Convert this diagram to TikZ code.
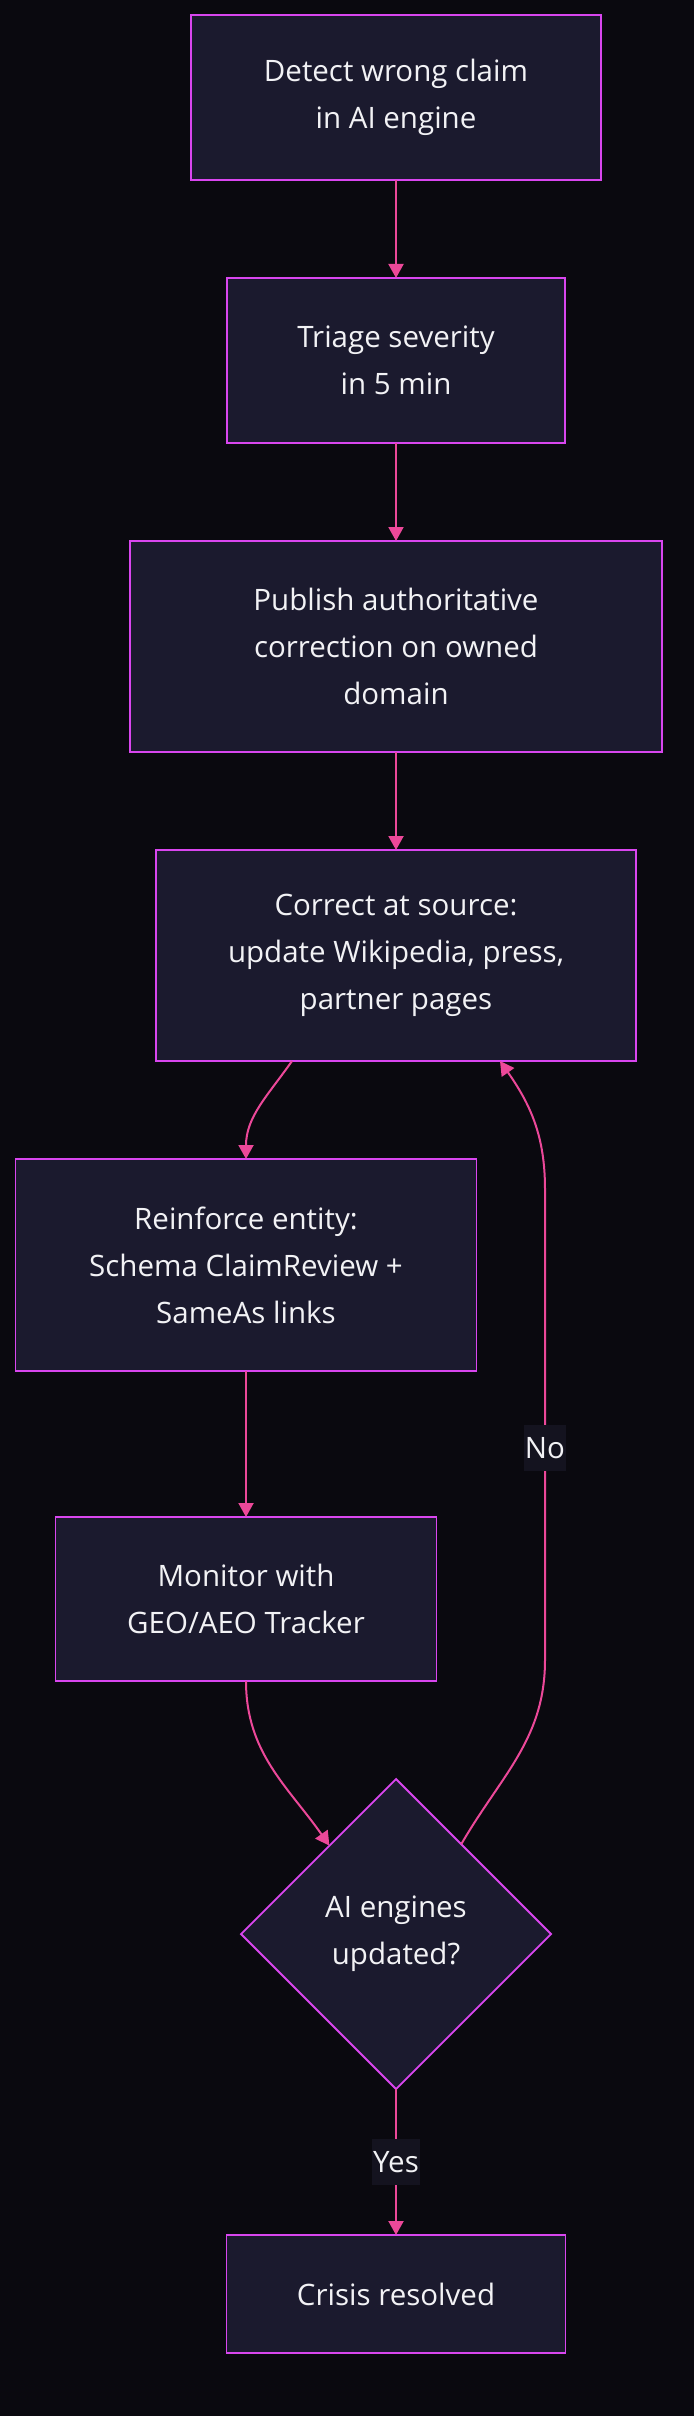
\documentclass[tikz,border=0pt]{standalone}
\usepackage{fontspec}
\setmainfont{Open Sans}
\usetikzlibrary{positioning,shapes.geometric,arrows.meta}
\definecolor{pagebg}{HTML}{0A090F}
\definecolor{boxfill}{HTML}{1B1A2E}
\definecolor{boxline}{HTML}{D946EF}
\definecolor{flowline}{HTML}{EC4899}
\definecolor{labelbg}{HTML}{14131F}
\definecolor{textcol}{HTML}{F2F2F5}

\begin{document}
\begin{tikzpicture}[x=1pt,y=1pt,->,>={Triangle[length=14pt,width=15pt]},node distance=98pt,
	main node/.style={draw=boxline,line width=1.8pt,fill=boxfill,text=textcol,align=center,inner sep=0pt,outer sep=0pt,font=\fontsize{29.5}{47}\selectfont},
	choice node/.style={main node,diamond,aspect=1},
	flow/.style={color=flowline,line width=2pt},
	edge label/.style={fill=labelbg,text=textcol,inner xsep=1pt,inner ysep=0pt,minimum height=46pt,font=\fontsize{29.5}{34}\selectfont}]
	
	\fill[pagebg] (0,0) rectangle (694,-2416);
	
	\node[main node, minimum width=410pt, minimum height=165pt] (detect) at (396,-97.5) {Detect wrong claim\\in AI engine};
	\node[main node, minimum width=338pt, minimum height=165pt] (triage) [below=of detect] {Triage severity\\in 5 min};
	\node[main node, minimum width=532pt, minimum height=211pt] (publish) [below=of triage] {Publish authoritative\\correction on owned\\domain};
	\node[main node, minimum width=480pt, minimum height=211pt] (source) [below=of publish] {Correct at source:\\update Wikipedia, press,\\partner pages};
	\node[main node, minimum width=461pt, minimum height=212pt] (entity) [below=of source, xshift=-150pt] {Reinforce entity:\\Schema ClaimReview +\\SameAs links};
	\node[main node, minimum width=381pt, minimum height=164pt] (monitor) [below=146pt of entity] {Monitor with\\GEO/AEO Tracker};
	\node[choice node, minimum width=310pt, minimum height=310pt] (updated) [below=of monitor, xshift=150pt] {AI engines\\updated?};
	\node[main node, minimum width=339pt, minimum height=118pt] (resolved) [below=146pt of updated] {Crisis resolved};
	
	\coordinate (loop low) at (545,-1660);
	\coordinate (loop high) at (545,-1189);
	
	\path[flow]
	(detect) edge (triage)
	(triage) edge (publish)
	(publish) edge (source)
	([xshift=-104pt]source.south) edge[out=-125,in=90] (entity.north)
	(entity) edge (monitor)
	(monitor.south) edge[out=-90,in=125] (updated.127)
	(updated) edge node[edge label] {Yes} (resolved);
	
	\draw[flow]
	(updated.54) to[out=60,in=-90] (loop low)
	-- node[edge label, pos=0.45] {No} (loop high)
	to[out=90,in=-55] ([xshift=104pt]source.south);
	
\end{tikzpicture}
\end{document}
